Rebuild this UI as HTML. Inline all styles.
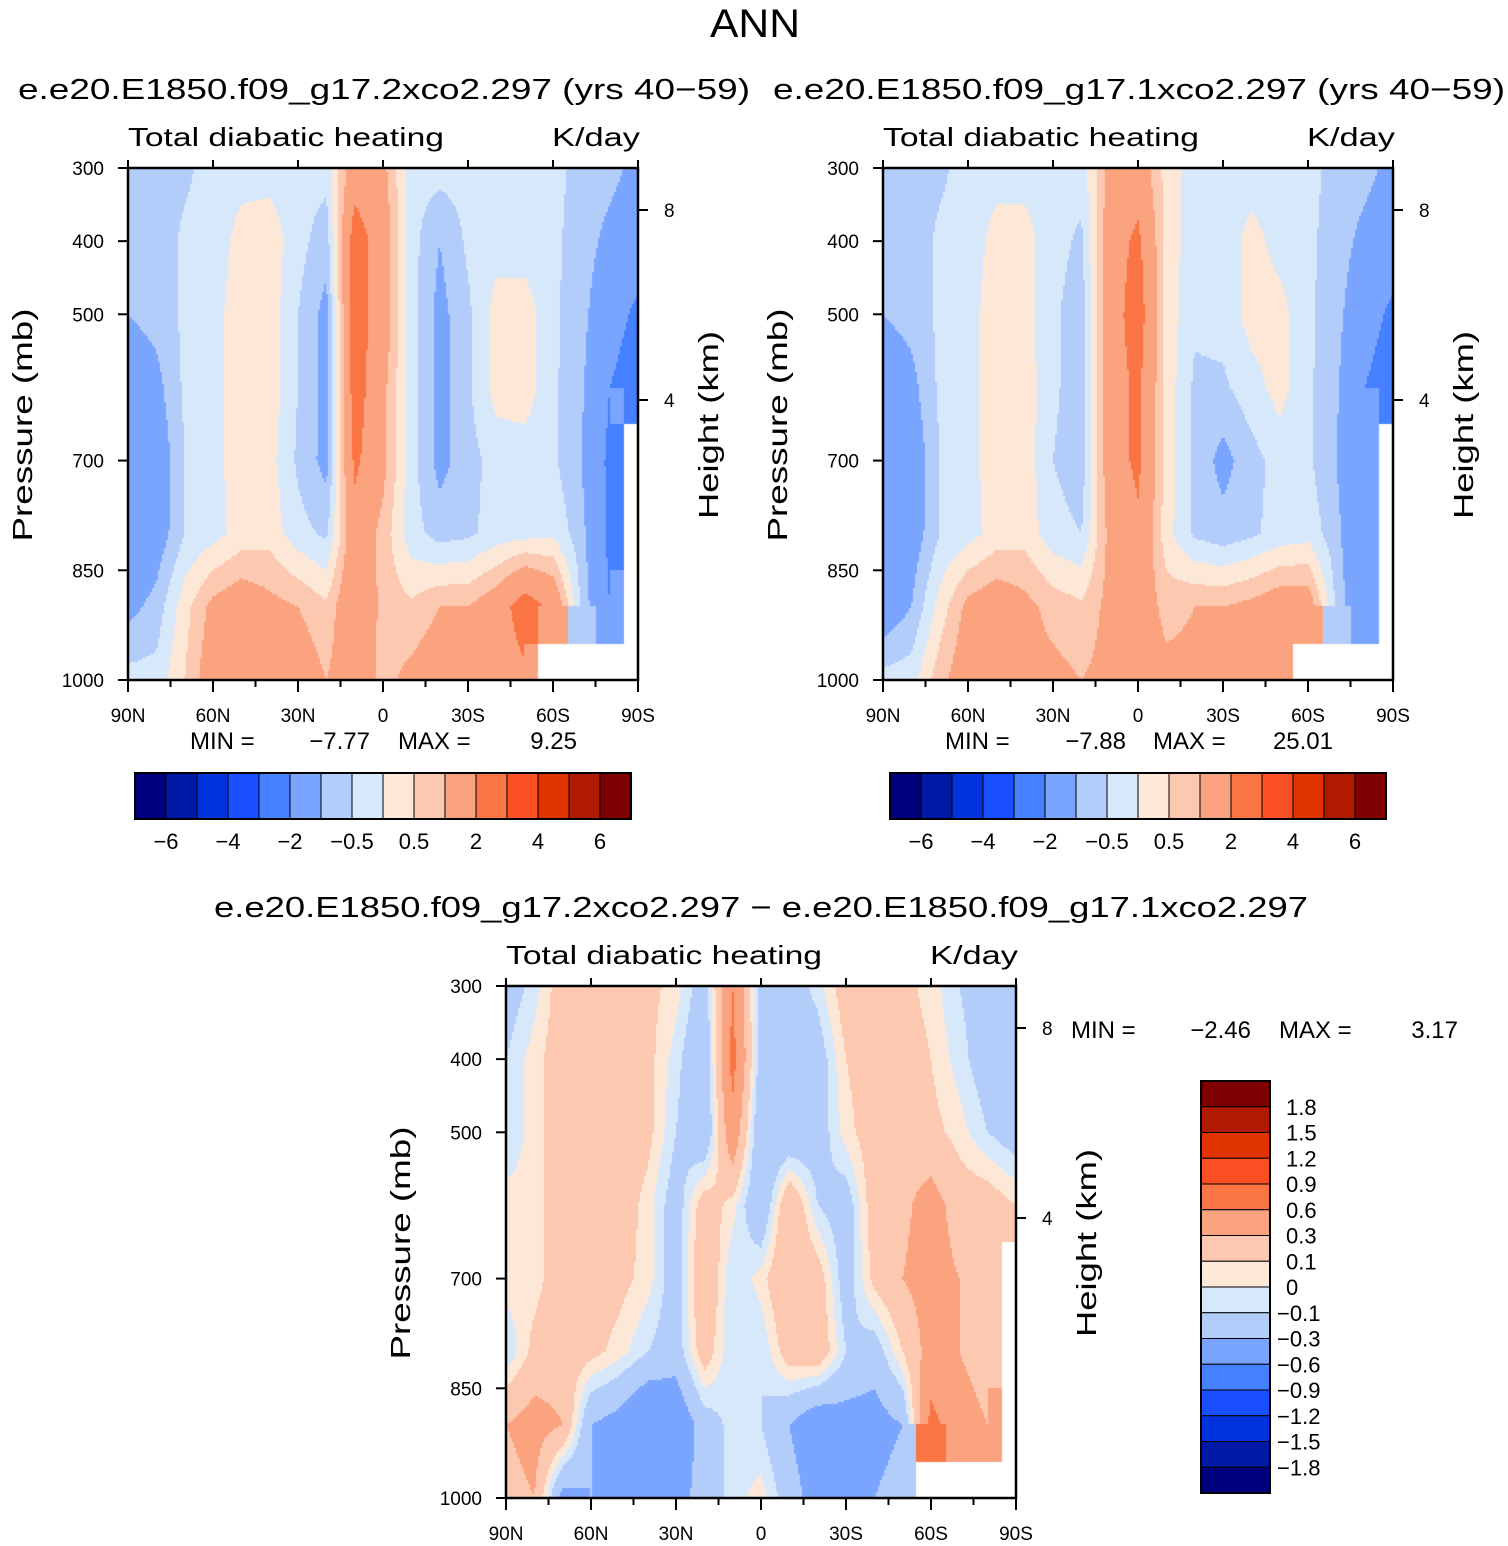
<!DOCTYPE html>
<html><head><meta charset="utf-8">
<style>
html,body{margin:0;padding:0;background:#fff;}
#wrap{position:relative;width:1508px;height:1546px;overflow:hidden;}
canvas{position:absolute;}
svg{position:absolute;left:0;top:0;}
text{font-family:"Liberation Sans",sans-serif;fill:#000;}
</style></head>
<body>
<div id="wrap">
<canvas id="c1" width="510" height="512" style="left:128px;top:168px"></canvas>
<canvas id="c2" width="510" height="512" style="left:883px;top:168px"></canvas>
<canvas id="c3" width="510" height="512" style="left:506px;top:986px"></canvas>
<svg id="s" width="1508" height="1546"></svg>
</div>
<script>
// ---- data ----
const lats = [90,80,70,60,50,40,30,20,10,0,-10,-20,-30,-40,-50,-60,-70,-80,-90];
const pressures = [300,400,500,600,700,800,900,1000];
const latTicks = [90,60,30,0,-30,-60,-90];
const latTickLabels = ["90N","60N","30N","0","30S","60S","90S"];
const presTicks = [300,400,500,700,850,1000];
const heightTicks = [[8,210],[4,400]];
const levelsAbs = [-6,-5,-4,-3,-2,-1,-0.5,0,0.5,1,2,3,4,5,6];
const levelsAbsLabels = ["−6","−4","−2","−0.5","0.5","2","4","6"];
const levelsDiff = [-1.8,-1.5,-1.2,-0.9,-0.6,-0.3,-0.1,0,0.1,0.3,0.6,0.9,1.2,1.5,1.8];
const levelsDiffLabels = ["1.8","1.5","1.2","0.9","0.6","0.3","0.1","0","−0.1","−0.3","−0.6","−0.9","−1.2","−1.5","−1.8"];
const colors = ["#00007f","#0019a6","#0033dd","#1a4fff","#4480ff","#7aa5ff","#b3cdfb","#d8e8fb","#fde8d8","#fcc8b0","#fba27f","#fa7543","#f94f22","#e03300","#b01a00","#7f0000"];
const N = NaN;
const field1 = [
[-0.8,-0.8,-0.6,-0.3,-0.2,-0.2,-0.3,-0.3,1.5,1.2,-0.3,-0.3,-0.3,-0.3,-0.3,-0.4,-0.6,-0.8,-1.2],
[-0.8,-0.8,-0.4,-0.3,0.2,0.3,-0.3,-0.8,2.5,1.5,-0.3,-1.0,-0.4,-0.2,-0.3,-0.4,-0.7,-1.2,-1.5],
[-1.0,-0.8,-0.4,-0.2,0.3,0.3,-0.5,-1.2,2.5,1.5,-0.3,-1.2,-0.6,0.2,0.3,-0.4,-0.8,-1.6,-2.2],
[-1.5,-1.2,-0.4,-0.2,0.3,0.3,-0.5,-1.2,2.5,1.2,-0.3,-1.2,-0.6,0.2,0.3,-0.4,-0.9,-2.0,-2.5],
[-1.8,-1.5,-0.5,-0.2,0.3,0.2,-0.6,-1.2,2.2,1.2,-0.3,-1.2,-0.7,-0.3,-0.3,-0.4,-1.0,-2.2,N],
[-1.8,-1.4,-0.5,-0.2,0.2,0.3,-0.3,-0.6,1.6,0.8,-0.3,-0.7,-0.6,-0.3,-0.2,-0.1,-0.8,-2.2,N],
[-1.2,-0.8,0.3,1.2,1.5,1.2,1.0,0.6,1.8,0.8,0.6,1.0,1.0,1.5,2.5,1.8,-0.6,-2.0,N],
[-0.3,-0.3,0.5,1.5,1.5,1.5,1.5,1.0,1.5,0.8,1.2,1.5,1.5,1.5,1.8,N,N,N,N]];
const field2 = [
[-0.8,-0.8,-0.6,-0.3,-0.2,-0.2,-0.3,-0.3,1.2,1.5,0.3,-0.3,-0.3,-0.3,-0.3,-0.4,-0.6,-0.8,-1.2],
[-0.8,-0.8,-0.4,-0.3,0.2,0.2,-0.3,-0.6,1.5,2.2,0.3,-0.3,-0.3,0.2,-0.2,-0.4,-0.7,-1.2,-1.5],
[-1.0,-0.8,-0.4,-0.2,0.3,0.2,-0.4,-0.8,1.5,2.5,0.3,-0.4,-0.3,0.2,0.2,-0.4,-0.8,-1.6,-2.2],
[-1.5,-1.2,-0.4,-0.2,0.3,0.3,-0.4,-0.8,1.5,2.2,0.3,-0.6,-0.6,-0.2,0.2,-0.4,-0.9,-2.0,-2.5],
[-1.8,-1.5,-0.5,-0.2,0.3,0.3,-0.5,-0.8,1.5,2.2,0.3,-0.6,-1.2,-0.7,-0.3,-0.4,-1.0,-2.0,N],
[-1.8,-1.4,-0.5,-0.2,0.2,0.3,-0.3,-0.5,1.2,1.8,0.2,-0.6,-0.8,-0.6,-0.3,-0.2,-0.8,-2.0,N],
[-1.5,-1.0,0.2,1.2,1.5,1.2,0.8,0.6,1.2,1.5,0.8,1.0,1.0,1.2,1.5,1.5,-0.6,-1.8,N],
[-0.3,-0.2,0.8,1.5,1.5,1.2,1.2,1.0,1.2,1.5,1.2,1.2,1.2,1.2,1.5,N,N,N,N]];
const field3 = [
[-0.2,-0.05,0.2,0.2,0.2,0.15,0.05,-0.2,0.6,-0.2,-0.2,-0.05,0.2,0.2,0.15,0.05,-0.1,-0.2,-0.3],
[-0.1,0.05,0.2,0.25,0.2,0.15,-0.05,-0.3,0.7,-0.2,-0.3,-0.2,0.1,0.2,0.2,0.1,-0.05,-0.2,-0.3],
[-0.1,0.05,0.2,0.25,0.2,0.15,-0.1,-0.3,0.5,-0.3,-0.3,-0.2,0.05,0.2,0.2,0.15,0.05,-0.1,-0.2],
[0.05,0.05,0.2,0.2,0.2,0.05,-0.2,0.2,0.05,-0.3,0.3,-0.1,-0.2,0.2,0.25,0.4,0.2,0.2,0.1],
[0.05,0.05,0.2,0.2,0.15,0.05,-0.2,0.3,-0.1,0.05,0.3,0.2,-0.2,0.15,0.3,0.4,0.3,0.2,N],
[-0.1,0.15,0.2,0.15,0.05,-0.1,-0.2,0.2,-0.1,-0.1,0.2,0.25,-0.1,-0.2,0.1,0.4,0.3,0.2,N],
[0.3,0.4,0.3,-0.3,-0.4,-0.6,-0.5,-0.2,-0.05,-0.1,-0.3,-0.5,-0.4,-0.4,-0.3,0.7,0.4,0.3,N],
[0.2,0.3,-0.4,-0.3,-0.5,-0.5,-0.4,-0.2,-0.05,0.05,-0.2,-0.4,-0.3,-0.3,-0.2,N,N,N,N]];

// ---- axis functions ----
const W=510,H=512;
function xOf(lat){return (90-lat)/180*W;}
function yOf(p){return (p-300)/700*H;}
function sample(f,lat,p){
  let fi=(90-lat)/10, fj=(p-300)/100;
  let i0=Math.min(Math.floor(fi),lats.length-2), j0=Math.min(Math.floor(fj),pressures.length-2);
  let tx=fi-i0, ty=fj-j0;
  let a=f[j0][i0],b=f[j0][i0+1],c=f[j0+1][i0],d=f[j0+1][i0+1];
  if(isNaN(a)||isNaN(b)||isNaN(c)||isNaN(d)){
    return f[Math.round(fj)][Math.round(fi)];
  }
  return a*(1-tx)*(1-ty)+b*tx*(1-ty)+c*(1-tx)*ty+d*tx*ty;
}
function levelIdx(v,lev){let k=0;while(k<lev.length&&v>=lev[k])k++;return k;}
function drawField(id,f,lev){
  const ctx=document.getElementById(id).getContext('2d');
  ctx.fillStyle='#fff';ctx.fillRect(0,0,W,H);
  for(let py=0;py<H;py+=2){
    const p=300+(py+1)/H*700;
    for(let px=0;px<W;px+=2){
      const lat=90-(px+1)/W*180;
      const v=sample(f,lat,p);
      if(isNaN(v))continue;
      ctx.fillStyle=colors[levelIdx(v,lev)];
      ctx.fillRect(px,py,2,2);
    }
  }
}
drawField('c1',field1,levelsAbs);
drawField('c2',field2,levelsAbs);
drawField('c3',field3,levelsDiff);

// ---- annotations ----
const S=document.getElementById('s');
const NS='http://www.w3.org/2000/svg';
function el(tag,attrs,txt){const e=document.createElementNS(NS,tag);for(const k in attrs)e.setAttribute(k,attrs[k]);if(txt!==undefined)e.textContent=txt;S.appendChild(e);return e;}
function txt(x,y,s,size,anchor,name,len){
  const a={x:x,y:y,'font-size':size,'text-anchor':anchor||'start'};
  if(len){a.textLength=len;a.lengthAdjust='spacingAndGlyphs';}
  const t=el('text',a,s);
  
  
  return t;
}
function line(x1,y1,x2,y2,w){return el('line',{x1:x1,y1:y1,x2:x2,y2:y2,stroke:'#000','stroke-width':w||2});}

txt(755,37,"ANN",40,'middle','main-title',90);

function panel(ox,oy,subtitle,subX,subLen,name){
  txt(subX,99,subtitle,29,'start',name+'-subtitle',subLen).setAttribute('y',oy-69);
  txt(ox,oy-22,"Total diabatic heating",26,'start',name+'-variable-label',316);
  txt(ox+W+2,oy-22,"K/day",26,'end',name+'-units-label',88);
  const box=el('rect',{x:ox,y:oy,width:W,height:H,fill:'none',stroke:'#000','stroke-width':2.5});
  
  
  for(let lat=90;lat>=-90;lat-=15){
    const x=ox+xOf(lat);const major=lat%30===0;
    line(x,oy+H,x,oy+H+(major?12:7),2);
    line(x,oy,x,oy-(major?8:0),2);
  }
  latTicks.forEach((lat,i)=>txt(ox+xOf(lat),oy+H+42,latTickLabels[i],19,'middle','x-tick-label'));
  presTicks.forEach(p=>{const y=oy+yOf(p);line(ox-10,y,ox,y,2);txt(ox-24,y+7,String(p),19,'end','y-tick-label');});
  heightTicks.forEach(h=>{const y=oy+h[1]-168;line(ox+W,y,ox+W+10,y,2);txt(ox+W+26,y+7,String(h[0]),19,'start','height-tick-label');});
  const yl=txt(0,0,"Pressure (mb)",28,'middle',name+'-y-axis-title',233);
  yl.setAttribute('transform','translate('+(ox-96)+','+(oy+257)+') rotate(-90)');
  const hl=txt(0,0,"Height (km)",28,'middle',name+'-height-axis-title',188);
  hl.setAttribute('transform','translate('+(ox+W+80)+','+(oy+257)+') rotate(-90)');
}
panel(128,168,"e.e20.E1850.f09_g17.2xco2.297 (yrs 40−59)",18,732,'panel-2xco2');
panel(883,168,"e.e20.E1850.f09_g17.1xco2.297 (yrs 40−59)",773,732,'panel-1xco2');
panel(506,986,"e.e20.E1850.f09_g17.2xco2.297 − e.e20.E1850.f09_g17.1xco2.297",214,1094,'panel-difference');

function minmax(x0,y,mn,mx,name,pos){
  txt(pos[0],y,"MIN =",24,'start',name+'-min-label');
  txt(pos[1],y,mn,24,'end',name+'-min-value');
  txt(pos[2],y,"MAX =",24,'start',name+'-max-label');
  txt(pos[3],y,mx,24,'end',name+'-max-value');
}
minmax(0,749,"−7.77","9.25",'panel-2xco2',[190,370,398,577]);
minmax(0,749,"−7.88","25.01",'panel-1xco2',[945,1126,1153,1333]);
minmax(0,1038,"−2.46","3.17",'panel-difference',[1071,1251,1279,1458]);

// horizontal colorbars
function hbar(x0,name){
  const bw=31,y0=773,h=46;
  colors.forEach((c,i)=>{const r=el('rect',{x:x0+i*bw,y:y0,width:bw,height:h,fill:c,stroke:'#000','stroke-width':1});
    });
  el('rect',{x:x0,y:y0,width:bw*16,height:h,fill:'none',stroke:'#000','stroke-width':2});
  levelsAbsLabels.forEach((s,i)=>txt(x0+bw*(2*i+1),y0+h+30,s,22,'middle',name+'-colorbar-label'));
}
hbar(135,'panel-2xco2');
hbar(890,'panel-1xco2');
// vertical colorbar
(function(){
  const x0=1201,y0=1081,bh=25.75,w=69;
  for(let i=0;i<16;i++){
    const r=el('rect',{x:x0,y:y0+i*bh,width:w,height:bh,fill:colors[15-i],stroke:'#000','stroke-width':1});
    
  }
  el('rect',{x:x0,y:y0,width:w,height:bh*16,fill:'none',stroke:'#000','stroke-width':2});
  levelsDiffLabels.forEach((s,i)=>txt(s.startsWith('−')?1277:1286,y0+bh*(i+1)+8,s,22,'start','diff-colorbar-label'));
})();
</script>
</body></html>
